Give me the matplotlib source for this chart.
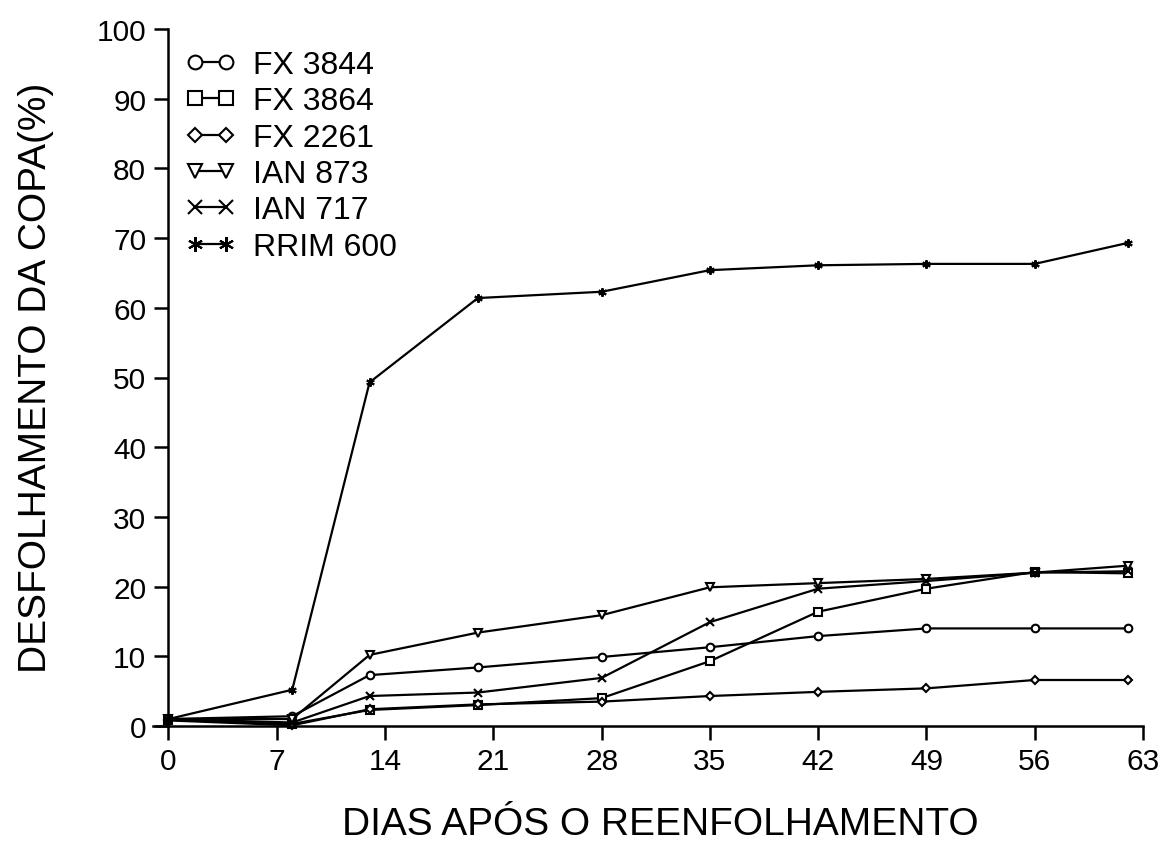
import matplotlib
matplotlib.use("Agg")
import matplotlib.pyplot as plt

# dias apos o reenfolhamento
dias = [0, 8, 13, 20, 28, 35, 42, 49, 56, 62]

# desfolhamento da copa (%) por clone
fx3844 = [1.0, 1.4, 7.3, 8.4, 9.9, 11.3, 12.9, 14.0, 14.0, 14.0]
fx3864 = [0.9, 0.3, 2.3, 3.0, 4.0, 9.3, 16.4, 19.7, 22.1, 21.9]
fx2261 = [0.8, 0.1, 2.4, 3.1, 3.5, 4.3, 4.9, 5.4, 6.6, 6.6]
ian873 = [1.0, 1.0, 10.2, 13.4, 15.9, 19.9, 20.5, 21.1, 22.0, 23.0]
ian717 = [1.0, 0.5, 4.3, 4.8, 6.9, 14.9, 19.7, 20.8, 22.0, 22.2]
rrim600 = [1.0, 5.2, 49.3, 61.4, 62.3, 65.4, 66.1, 66.3, 66.3, 69.3]

clones = ["FX 3844", "FX 3864", "FX 2261", "IAN 873", "IAN 717", "RRIM 600"]
series = [fx3844, fx3864, fx2261, ian873, ian717, rrim600]
markers = ["o", "s", "D", "v", "x", (6, 2, 0)]
msizes = [5.5, 5.5, 4.2, 5.5, 5.5, 6.0]

plt.rcParams["font.family"] = ["Liberation Sans", "DejaVu Sans"]

fig = plt.figure(figsize=(11.7, 8.45), dpi=100)
ax = fig.add_axes([153 / 1170, 1 - 727 / 845, 990 / 1170, 697 / 845])

for nome, valores, mk, ms in zip(clones, series, markers, msizes):
    ax.plot(dias, valores, color="black", linewidth=1.6, marker=mk,
            markersize=ms, markerfacecolor="white", markeredgecolor="black",
            markeredgewidth=1.5, label=nome, clip_on=False)

ax.set_xlim(-1, 63)
ax.set_ylim(0, 100)
ax.set_xticks(range(0, 64, 7))
ax.set_yticks(range(0, 101, 10))

ax.spines["left"].set_position(("data", 0))
ax.spines["top"].set_visible(False)
ax.spines["right"].set_visible(False)
for s in ("left", "bottom"):
    ax.spines[s].set_linewidth(1.8)

ax.tick_params(direction="out", length=10, width=1.8, labelsize=21.5)
ax.tick_params(axis="y", pad=6)
ax.tick_params(axis="x", pad=5)

ax.legend(loc="upper left", bbox_to_anchor=(0.033, 0.97), frameon=False,
          numpoints=2, handlelength=1.55, handletextpad=0.55, labelspacing=0.2,
          borderpad=0, borderaxespad=0, markerscale=1.8, fontsize=23)

fig.text(660 / 1170, 1 - 825 / 845, "DIAS APÓS O REENFOLHAMENTO",
         ha="center", va="center", fontsize=28)
fig.text(36 / 1170, 1 - 378 / 845, "DESFOLHAMENTO DA COPA(%)",
         ha="center", va="center", rotation=90, fontsize=28)

fig.savefig("out.png", dpi=100)
